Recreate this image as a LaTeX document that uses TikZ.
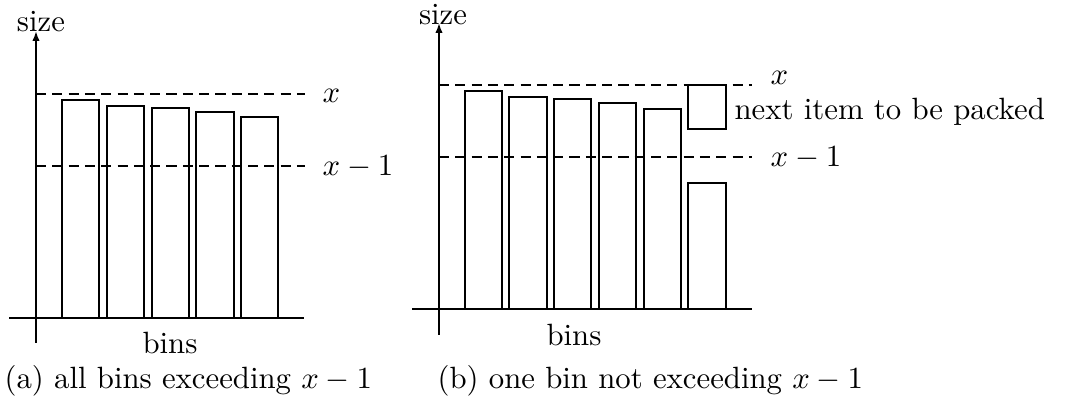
\documentclass[tikz,border=0pt]{standalone}
\usetikzlibrary{arrows.meta}
\begin{document}
\begin{tikzpicture}[x=0.325pt,y=-0.325pt,
  axis/.style={line width=0.65pt,-{Latex[length=3.2pt,width=2.4pt]}},
  baseline/.style={line width=0.65pt},
  bar/.style={draw,line width=0.62pt},
  level/.style={dash pattern=on 3.3pt off 2pt,line width=0.55pt},
  lbl/.style={inner sep=0pt}]
\useasboundingbox (0,0) rectangle (1075,405);
% ---------- panel (a)
\coordinate (ay0) at (36,343);
\coordinate (ay1) at (36,31);
\coordinate (ax0) at (9,318);
\coordinate (ax1) at (304,318);
\draw[axis] (ay0) -- (ay1);
\draw[baseline] (ax0) -- (ax1);
\node[lbl] (asize) at (41,22) {size};
\node[lbl] (abins) at (170,343) {bins};
\draw[bar] (62,318) rectangle (99,100);
\draw[bar] (107,318) rectangle (144,106);
\draw[bar] (152,318) rectangle (189,108);
\draw[bar] (196,318) rectangle (234,112);
\draw[bar] (241,318) rectangle (278,117);
\coordinate (alx0) at (36,94);
\coordinate (alx1) at (305,94);
\coordinate (alm0) at (36,166);
\coordinate (alm1) at (305,166);
\draw[level] (alx0) -- (alx1);
\draw[level] (alm0) -- (alm1);
\node[lbl,anchor=west] (ax) at (322,96) {$x$};
\node[lbl,anchor=west] (axm) at (322,167) {$x-1$};
\node[lbl,anchor=west] (acap) at (4,381) {(a) all bins exceeding $x-1$};
% ---------- panel (b)
\coordinate (by0) at (439,335);
\coordinate (by1) at (439,23);
\coordinate (bx0) at (412,309);
\coordinate (bx1) at (752,309);
\draw[axis] (by0) -- (by1);
\draw[baseline] (bx0) -- (bx1);
\node[lbl] (bsize) at (443,15) {size};
\node[lbl] (bbins) at (574,335) {bins};
\draw[bar] (465,309) rectangle (502,91);
\draw[bar] (509,309) rectangle (547,97);
\draw[bar] (554,309) rectangle (591,99);
\draw[bar] (599,309) rectangle (636,103);
\draw[bar] (644,309) rectangle (681,109);
\draw[bar] (688,309) rectangle (726,183);
\coordinate (blx0) at (439,85);
\coordinate (blx1) at (752,85);
\coordinate (blm0) at (439,157);
\coordinate (blm1) at (752,157);
\draw[level] (blx0) -- (blx1);
\draw[level] (blm0) -- (blm1);
\draw[bar,fill=white] (688,129) rectangle (726,85);
\node[lbl,anchor=west] (bx) at (770,78) {$x$};
\node[lbl,anchor=west] (bxm) at (770,158) {$x-1$};
\node[lbl,anchor=west] (bnext) at (734,112) {next item to be packed};
\node[lbl,anchor=west] (bcap) at (437,381) {(b) one bin not exceeding $x-1$};
\end{tikzpicture}
\end{document}
